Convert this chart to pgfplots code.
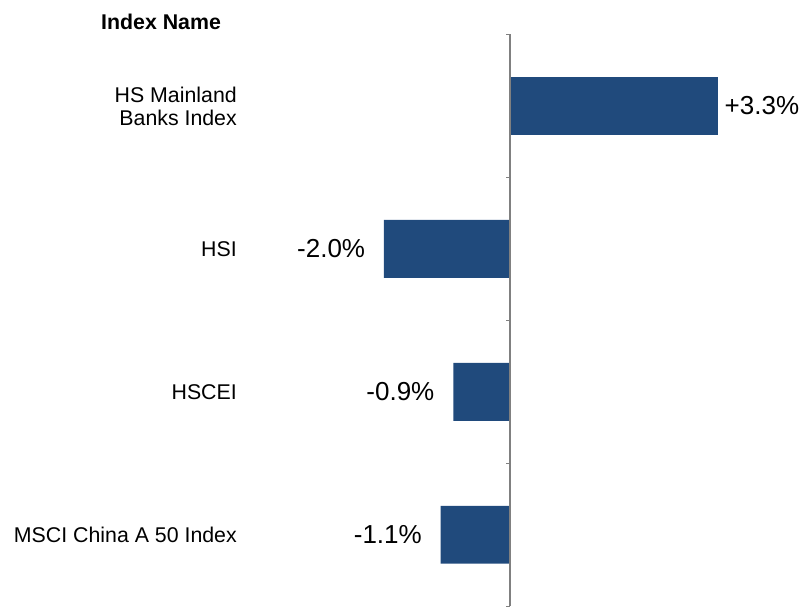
\documentclass[border=0pt]{standalone}
\usepackage{fontspec}
\setmainfont{Liberation Sans}
\usepackage{pgfplots}
\pgfplotsset{compat=1.18}
\definecolor{barNavy}{RGB}{32,74,124}
\definecolor{axisGray}{RGB}{128,128,128}

\begin{document}
\begin{tikzpicture}
\begin{axis}[
  scale only axis,
  width=602.25pt, height=454.5pt,
  xmin=-8.095, xmax=4.651,
  ymin=-0.741, ymax=3.497,
  y dir=reverse,
  xbar, bar width=0.405, bar shift=0pt,
  clip=false,
  axis line style={draw=none},
  xtick=\empty,
  ytick={0,1,2,3},
  yticklabels={{HS Mainland\\Banks Index},HSI,HSCEI,MSCI China A 50 Index},
  major tick length=0pt,
  yticklabel style={align=right, anchor=east, inner sep=0pt, xshift=177.75pt,
    font=\fontsize{16}{17.25}\selectfont},
  nodes near coords={\pgfmathprintnumber[fixed,fixed zerofill,precision=1,assume math mode=true]{\pgfplotspointmeta}\%},
  every node near coord/.append style={font=\fontsize{19.5}{22}\selectfont, inner sep=0pt, black},
]
% gains
\addplot[fill=barNavy, draw=none,
  nodes near coords={+\pgfmathprintnumber[fixed,fixed zerofill,precision=1,assume math mode=true]{\pgfplotspointmeta}\%},
  every node near coord/.append style={anchor=west, xshift=5pt}]
  coordinates {(3.3,0)};
% losses
\addplot[fill=barNavy, draw=none,
  every node near coord/.append style={anchor=east, xshift=-14pt}]
  coordinates {(-2.0,1) (-0.9,2) (-1.1,3)};

% value axis at zero with category separators
\draw[axisGray, line width=1pt] (axis cs:0,-0.5) -- (axis cs:0,3.5);
\pgfplotsinvokeforeach{-0.5,0.5,1.5,2.5,3.5}{
  \draw[axisGray, line width=0.8pt] (axis cs:0,#1) -- ++(-3pt,0pt);
}

\node[font=\fontsize{16}{18}\selectfont\bfseries] at (rel axis cs:0.2005,0.9637) {Index Name};
\path (rel axis cs:0,0) rectangle (rel axis cs:1,1);
\end{axis}
\end{tikzpicture}
\end{document}
